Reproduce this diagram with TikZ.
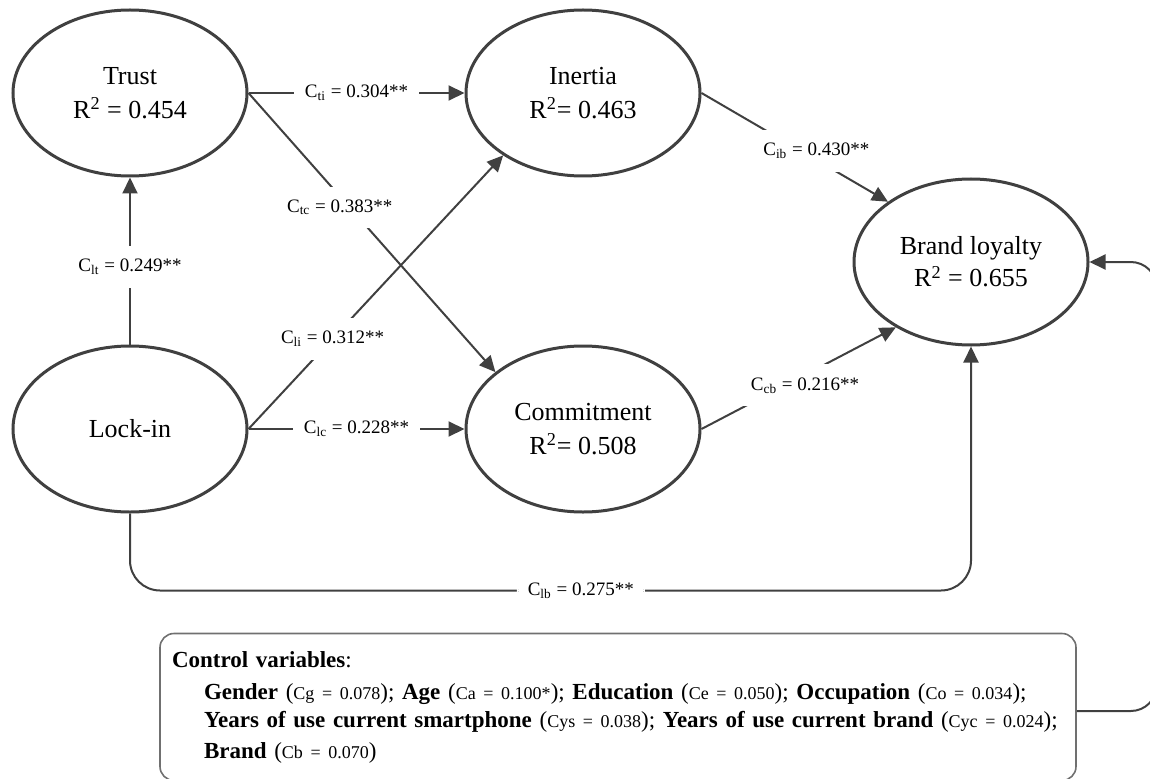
\documentclass[tikz,border=0pt]{standalone}
\usepackage{fontspec}
\setmainfont{Liberation Serif}
\usepackage{tikz}
\usetikzlibrary{positioning, shapes.geometric, arrows.meta}
\definecolor{linegray}{HTML}{404040}
\newcommand{\ctrlval}[1]{{\fontsize{9}{10}\selectfont #1}}
\tikzset{
  construct/.style={ellipse, draw=linegray, line width=1.5pt, minimum width=117pt, minimum height=83pt, inner sep=0pt, align=center, font=\fontsize{13}{17}\selectfont},
  arrow/.style={-{Triangle[length=8pt, width=7.5pt]}, draw=linegray, line width=1pt},
  coef/.style={fill=white, inner xsep=5.5pt, inner ysep=6.5pt, font=\fontsize{9.5}{11}\selectfont},
  ctrlbox/.style={rectangle, rounded corners=7pt, draw=linegray!75, line width=0.8pt, minimum width=458pt, minimum height=73.5pt, text width=446pt, inner xsep=6pt, align=left, font=\fontsize{11.5}{14}\selectfont},
}

\begin{document}
\begin{tikzpicture}[x=0.5pt, y=0.5pt]
  \useasboundingbox (0,0) rectangle (1150,778);

  % Constructs
  \node[construct] (trust) at (130,685) {Trust\\R\textsuperscript{2} = 0.454};
  \node[construct, right=108pt of trust] (inertia) {Inertia\\R\textsuperscript{2}= 0.463};
  \node[construct, below=83.5pt of trust] (lockin) {Lock-in};
  \node[construct, right=108pt of lockin] (commit) {Commitment\\R\textsuperscript{2}= 0.508};
  \node[construct, font=\fontsize{13}{16}\selectfont] (brand) at (971,516) {Brand loyalty\\R\textsuperscript{2} = 0.655};

  % Control variables
  \node[ctrlbox] (ctrl) at (618,71) {
    \textbf{Control variables}:\\[2pt]
    \mbox{\hspace*{16pt}\textbf{Gender} (\ctrlval{Cg = 0.078}); \textbf{Age} (\ctrlval{Ca = 0.100*}); \textbf{Education} (\ctrlval{Ce = 0.050}); \textbf{Occupation} (\ctrlval{Co = 0.034});}\\
    \mbox{\hspace*{16pt}\textbf{Years of use current smartphone} (\ctrlval{Cys = 0.038}); \textbf{Years of use current brand} (\ctrlval{Cyc = 0.024});}\\[1.5pt]
    \hspace*{16pt}\textbf{Brand} (\ctrlval{Cb = 0.070})
  };

  % Paths
  \draw[arrow] (trust.east) -- node[coef] {C\textsubscript{ti} = 0.304**} (inertia.west);
  \draw[arrow] (trust.east) -- node[coef, pos=0.41, xshift=-5pt] {C\textsubscript{tc} = 0.383**} (commit.147);
  \draw[arrow] (lockin.east) -- node[coef, pos=0.33] {C\textsubscript{li} = 0.312**} (inertia.218);
  \draw[arrow] (lockin.east) -- node[coef] {C\textsubscript{lc} = 0.228**} (commit.west);
  \draw[arrow] (lockin.north) -- node[coef, pos=0.465] {C\textsubscript{lt} = 0.249**} (trust.south);
  \draw[arrow] (inertia.east) -- node[coef, pos=0.53, xshift=8pt] {C\textsubscript{ib} = 0.430**} (brand.144);
  \draw[arrow] (commit.east) -- node[coef, pos=0.43, xshift=10pt] {C\textsubscript{cb} = 0.216**} (brand.221);
  \draw[arrow, rounded corners=15pt] (lockin.south) -- ++(0,-77) -| node[coef, pos=0.268] {C\textsubscript{lb} = 0.275**} (brand.south);
  \draw[arrow, rounded corners=13pt] ([yshift=-2pt]ctrl.east) -- ++(80,0) |- (brand.east);
\end{tikzpicture}
\end{document}
